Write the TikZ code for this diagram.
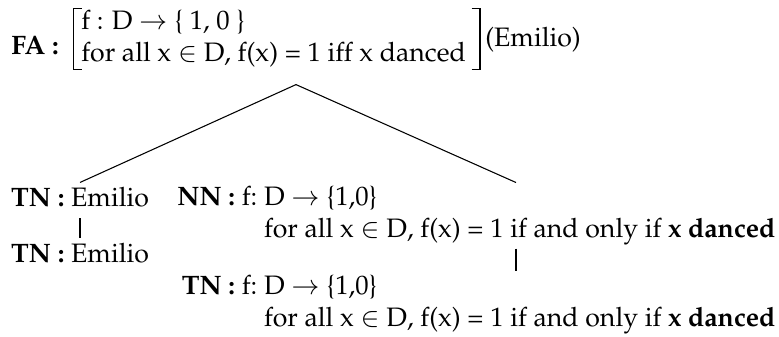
\documentclass[tikz,border=0pt]{standalone}
\usepackage[T1]{fontenc}
\usepackage{mathpazo}
\usetikzlibrary{positioning}
% thin square brackets of a fixed size round the denotation
\newcommand{\semopen}{\vrule height 17.6pt depth 5.6pt width .5pt%
  \rlap{\raisebox{17.1pt}{\vrule height .5pt depth 0pt width 2.8pt}}%
  \rlap{\raisebox{-5.6pt}{\vrule height .5pt depth 0pt width 2.8pt}}}
\newcommand{\semclose}{\llap{\raisebox{17.1pt}{\vrule height .5pt depth 0pt width 2.8pt}}%
  \llap{\raisebox{-5.6pt}{\vrule height .5pt depth 0pt width 2.8pt}}%
  \vrule height 17.6pt depth 5.6pt width .5pt}
\tikzset{
  rootbox/.style={anchor=base,inner sep=0pt,text depth=10.9pt},
  termbox/.style={anchor=base,inner xsep=0pt,inner ysep=0.8pt,text height=8.2pt,text depth=3.3pt},
  phrasebox/.style={anchor=base east,inner xsep=0pt,inner ysep=0.2pt},
  branch/.style={draw=black,line width=.4pt}
}
\begin{document}
\begin{tikzpicture}[x=0.375pt,y=-0.375pt]
  \useasboundingbox (0,0) rectangle (779,337);
  % Root: function application over the denotation.
  \node[rootbox] (fa) at (296,55)
    {\textbf{FA :}\hspace{5.4pt}\semopen\hspace{2.6pt}\raisebox{9.4pt}{\begin{tabular}[t]{@{}l@{}}f : D $\to$ \{ 1, 0 \}\\for all x $\in$ D, f(x) = 1 iff x danced\end{tabular}}\hspace{5pt}\semclose\hspace{1.8pt}\raisebox{3pt}{(Emilio)}};

  % Left daughter: the name, passed up unchanged.
  \node[termbox] (tn1) at (80,207) {\textbf{TN :} Emilio};
  \node[termbox] (tn2) at (80,263) {\textbf{TN :} Emilio};

  % Right daughter: the predicate.
  \node[phrasebox] (nn) at (776,206)
    {\begin{tabular}[t]{@{}l@{\ }l@{}}\textbf{NN :} f: & D $\to$ \{1,0\}\\ & for all x $\in$ D, f(x) = 1 if and only if \textbf{x danced}\end{tabular}};
  \node[phrasebox] (tn3) at (776,294)
    {\begin{tabular}[t]{@{}l@{\ }l@{}}\textbf{TN :} f: & D $\to$ \{1,0\}\\ & for all x $\in$ D, f(x) = 1 if and only if \textbf{x danced}\end{tabular}};
  \coordinate (nnx) at (516,0);

  \draw[branch] (fa.south) -- (tn1.north);
  \draw[branch] (fa.south) -- (nn.north -| nnx);
  \draw[branch] (tn1.south) -- (tn2.north);
  \draw[branch] (nn.south -| nnx) -- (tn3.north -| nnx);
\end{tikzpicture}
\end{document}
